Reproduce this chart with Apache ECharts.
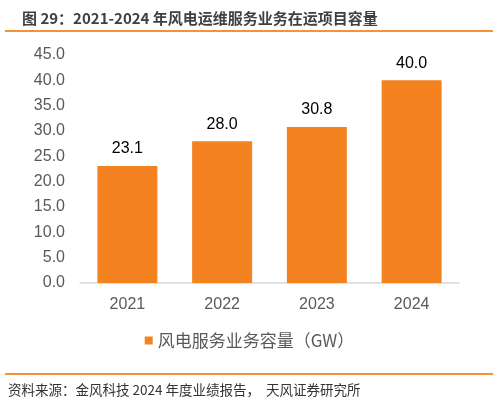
<!DOCTYPE html>
<html>
<head>
<meta charset="utf-8">
<script src="https://cdn.jsdelivr.net/npm/echarts@6/dist/echarts.min.js"></script>
<style>
html, body { margin: 0; padding: 0; background: #fff; }
#chart { width: 499px; height: 404px; }
</style>
</head>
<body>
<div id="chart"></div>
<script>
// 数据
var years = ['2021', '2022', '2023', '2024'];
var capacity = [23.1, 28.0, 30.8, 40.0];
var seriesName = '风电服务业务容量（GW）';
var titleText = '图 29：2021-2024 年风电运维服务业务在运项目容量';
var sourceText = '资料来源：金风科技 2024 年度业绩报告，  天风证券研究所';

var latin = '"Liberation Sans", Arial, sans-serif';
var cjk = '"Noto Sans CJK SC", sans-serif';
var orange = '#F58220';

var option = {
    animation: false,
    title: {
        text: titleText,
        left: 17,
        top: 6,
        textStyle: {
            fontFamily: cjk,
            fontSize: 15,
            fontWeight: 'bold',
            color: '#404040'
        }
    },
    legend: {
        data: [seriesName],
        bottom: 50,
        left: 'center',
        itemWidth: 8,
        itemHeight: 8,
        itemGap: 6,
        icon: 'rect',
        textStyle: {
            fontFamily: cjk,
            fontSize: 17,
            color: '#595959'
        }
    },
    grid: {
        left: 80,
        right: 40,
        top: 55,
        bottom: 121,
        containLabel: false
    },
    xAxis: {
        type: 'category',
        data: years,
        axisTick: { show: false },
        axisLine: { lineStyle: { color: '#d9d9d9', width: 1.5 } },
        axisLabel: {
            margin: 14,
            fontFamily: latin,
            fontSize: 16,
            color: '#595959'
        }
    },
    yAxis: {
        type: 'value',
        min: 0,
        max: 45,
        interval: 5,
        splitLine: { show: false },
        axisLine: { show: false },
        axisTick: { show: false },
        axisLabel: {
            margin: 15,
            fontFamily: latin,
            fontSize: 16,
            color: '#595959',
            formatter: function (v) { return v.toFixed(1); }
        }
    },
    series: [
        {
            name: seriesName,
            type: 'bar',
            data: capacity,
            barWidth: 60,
            itemStyle: { color: orange },
            label: {
                show: true,
                position: 'top',
                distance: 9,
                fontFamily: latin,
                fontSize: 16,
                color: '#000',
                formatter: function (p) { return p.value.toFixed(1); }
            }
        }
    ],
    graphic: [
        {
            type: 'rect',
            shape: { x: 5, y: 30, width: 488, height: 2 },
            style: { fill: '#F4913C' }
        },
        {
            type: 'rect',
            shape: { x: 5, y: 373, width: 488, height: 2 },
            style: { fill: '#F4913C' }
        },
        {
            type: 'text',
            left: 8,
            top: 383,
            style: {
                text: sourceText,
                font: '13.5px "Noto Sans CJK SC", sans-serif',
                fill: '#333'
            }
        }
    ]
};

var chart = echarts.init(document.getElementById('chart'));
chart.setOption(option);
</script>
</body>
</html>
